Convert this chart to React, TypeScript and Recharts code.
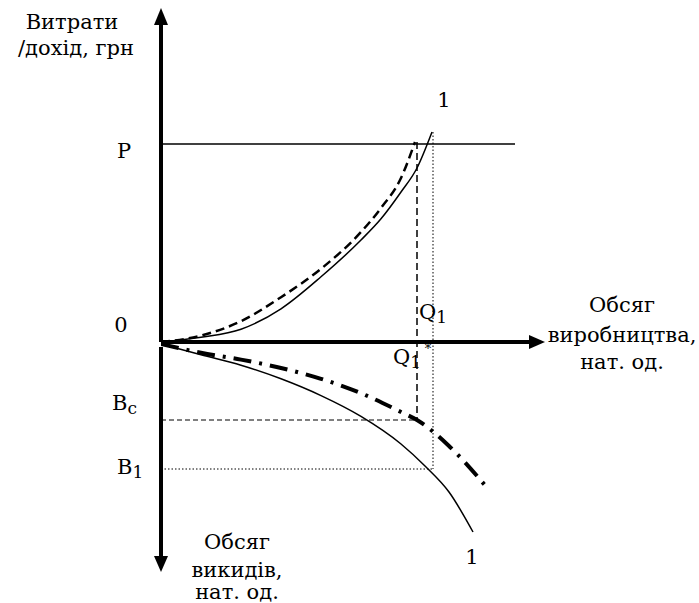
import { ComposedChart, Line, ReferenceDot, ReferenceLine, XAxis, YAxis } from "recharts";

// обсяг виробництва (x) і витрати / викиди (y), у довільних одиницях
const costX = [0, 10, 20, 30, 40, 50, 55, 60, 64, 67.75];
const costSolid = [0, 1.2, 3.2, 8.3, 16.3, 25.5, 30.8, 37.5, 43.5, 52.5];
const costDashX = [0, 10, 20, 30, 40, 50, 55, 60, 63.5];
const costDashed = [0, 1.6, 5.2, 11.2, 18.3, 27.5, 33.5, 41, 50];
const emisX = [0, 10, 20, 30, 40, 50, 60, 66, 72, 78];
const emisSolid = [-0.5, -3.2, -5.8, -9.2, -13.4, -18.6, -25.5, -31, -37.5, -47.5];
const emisDashX = [0, 10, 20, 30, 40, 50, 60, 64, 72, 82];
const emisDashDot = [-0.5, -2.7, -4.4, -6.5, -9.2, -12.8, -17.5, -19.5, -26, -37];

const P = 49.5;
const Q1 = 64;
const Q1star = 68;
const Bc = -19.5;
const B1 = -31.75;

const zip = (xs: number[], ys: number[]) => xs.map((x, i) => ({ x, y: ys[i] }));

const FONT = "'DejaVu Serif', serif";

type Note = { x: number; y: number; text: string; sub?: string; anchor?: "start" | "middle"; size?: number };
const notes: Note[] = [
  { x: -22.25, y: 80, text: "Витрати" },
  { x: -21.25, y: 73.5, text: "/дохід, грн" },
  { x: -9.25, y: 47.75, text: "P" },
  { x: -10, y: 4.25, text: "0" },
  { x: 70.75, y: 60.5, text: "1" },
  { x: 64.5, y: 7.5, text: "Q", sub: "1", anchor: "start" },
  { x: 58, y: -3.75, text: "Q", sub: "1", anchor: "start" },
  { x: 66.75, y: -1.5, text: "*", size: 13 },
  { x: -12.25, y: -15.25, text: "B", sub: "c", anchor: "start" },
  { x: -11, y: -31.25, text: "B", sub: "1", anchor: "start" },
  { x: 115.25, y: 9.25, text: "Обсяг" },
  { x: 115.25, y: 1.75, text: "виробництва," },
  { x: 115.25, y: -5, text: "нат. од." },
  { x: 19, y: -50, text: "Обсяг" },
  { x: 19, y: -57, text: "викидів," },
  { x: 19, y: -62.5, text: "нат. од." },
  { x: 77.75, y: -53.75, text: "1" },
];

const arrow = (dir: "up" | "down" | "right") => (p: any) => {
  const { cx, cy } = p;
  const pts =
    dir === "up"
      ? `${cx},${cy} ${cx - 7},${cy + 17} ${cx + 7},${cy + 17}`
      : dir === "down"
      ? `${cx},${cy} ${cx - 7},${cy - 16} ${cx + 7},${cy - 16}`
      : `${cx},${cy} ${cx - 16},${cy - 7} ${cx - 16},${cy + 7}`;
  return <polygon points={pts} fill="#000" />;
};

const noteShape = (n: Note) => (p: any) => (
  <text
    x={p.cx}
    y={p.cy}
    textAnchor={n.anchor ?? "middle"}
    dominantBaseline="central"
    style={{ fontFamily: FONT, fontSize: n.size ?? 21 }}
    fill="#000"
  >
    {n.text}
    {n.sub && (
      <tspan style={{ fontSize: 17 }} dy={5}>
        {n.sub}
      </tspan>
    )}
  </text>
);

export default function App() {
  return (
    <div style={{ position: "absolute", left: 0, top: 0, width: 699, height: 603, background: "#fff" }}>
      <ComposedChart width={699} height={603} margin={{ top: 6, right: 138, bottom: 21, left: 161 }}>
        <XAxis type="number" dataKey="x" domain={[0, 100]} hide allowDataOverflow />
        <YAxis type="number" dataKey="y" domain={[-60, 84]} hide allowDataOverflow />

        {/* допоміжні лінії */}
        <ReferenceLine segment={[{ x: 0, y: P }, { x: 88.5, y: P }]} stroke="#000" strokeWidth={1.3} ifOverflow="visible" />
        <ReferenceLine segment={[{ x: 0, y: Bc }, { x: Q1, y: Bc }]} stroke="#000" strokeWidth={1} strokeDasharray="5 3" ifOverflow="visible" />
        <ReferenceLine segment={[{ x: 0, y: B1 }, { x: Q1star, y: B1 }]} stroke="#000" strokeWidth={1} strokeDasharray="1.5 2" ifOverflow="visible" />
        <ReferenceLine segment={[{ x: Q1, y: 50 }, { x: Q1, y: Bc }]} stroke="#000" strokeWidth={1.5} strokeDasharray="7 4" ifOverflow="visible" />
        <ReferenceLine segment={[{ x: Q1star, y: 52.5 }, { x: Q1star, y: B1 }]} stroke="#000" strokeWidth={1} strokeDasharray="1.5 2" ifOverflow="visible" />

        <Line data={zip(costX, costSolid)} dataKey="y" type="monotone" dot={false} stroke="#000" strokeWidth={1.5} isAnimationActive={false} />
        <Line data={zip(costDashX, costDashed)} dataKey="y" type="monotone" dot={false} stroke="#000" strokeWidth={2.5} strokeDasharray="9 5" isAnimationActive={false} />
        <Line data={zip(emisX, emisSolid)} dataKey="y" type="monotone" dot={false} stroke="#000" strokeWidth={1.5} isAnimationActive={false} />
        <Line data={zip(emisDashX, emisDashDot)} dataKey="y" type="monotone" dot={false} stroke="#000" strokeWidth={4} strokeDasharray="18 8 3 8" isAnimationActive={false} />

        {/* осі */}
        <ReferenceLine segment={[{ x: 0, y: 80 }, { x: 0, y: 0 }]} stroke="#000" strokeWidth={4} ifOverflow="visible" />
        <ReferenceLine segment={[{ x: 0, y: -1.25 }, { x: 0, y: -54 }]} stroke="#000" strokeWidth={4} ifOverflow="visible" />
        <ReferenceLine segment={[{ x: 0, y: 0 }, { x: 93, y: 0 }]} stroke="#000" strokeWidth={4} ifOverflow="visible" />
        <ReferenceDot x={0} y={83.5} r={0} ifOverflow="visible" shape={arrow("up")} />
        <ReferenceDot x={0} y={-57.5} r={0} ifOverflow="visible" shape={arrow("down")} />
        <ReferenceDot x={96} y={0} r={0} ifOverflow="visible" shape={arrow("right")} />

        {notes.map((n, i) => (
          <ReferenceDot key={i} x={n.x} y={n.y} r={0} ifOverflow="visible" shape={noteShape(n)} />
        ))}
      </ComposedChart>
    </div>
  );
}
